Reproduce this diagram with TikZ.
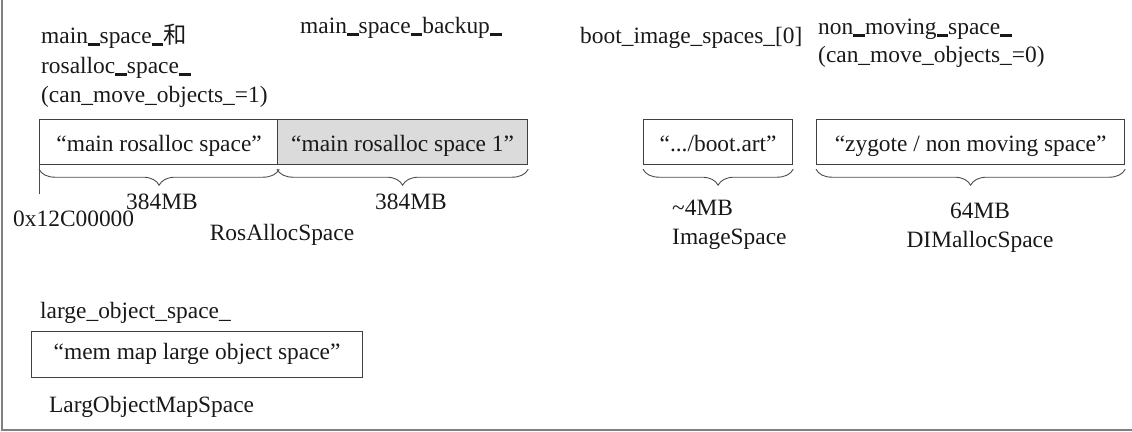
\documentclass[tikz,border=0pt]{standalone}
\usepackage{fontspec}
\setmainfont{Liberation Serif}
\newfontfamily\cjk{Noto Sans CJK SC}
\usetikzlibrary{decorations.pathreplacing}
\newcommand\tu{\rule[-0.11em]{0.5em}{0.09em}}
\begin{document}
\begin{tikzpicture}[x=1pt,y=-1pt,
  every node/.style={font=\fontsize{23.4}{30}\selectfont, text=black!90, inner sep=0pt},
  lbl/.style={anchor=base west},
  clbl/.style={anchor=base},
  membox/.style={draw=black!75, line width=1.2pt, minimum height=45pt, anchor=north west, text height=18pt, text depth=0pt},
  brace/.style={draw=black!70, line width=0.9pt, decorate, decoration={brace, mirror, amplitude=16pt, raise=4pt}},
  thin/.style={draw=black!70, line width=0.9pt},
  frame/.style={draw=black!50, line width=1.5pt}]
\useasboundingbox (0,0) rectangle (1132,431);
% frame
\coordinate (ftop) at (2,0);
\coordinate (fcorner) at (2,430);
\coordinate (fright) at (1132,430);
\draw[frame] (ftop) -- (fcorner) -- (fright);
% boxes
\node[membox, minimum width=239pt] (main) at (39,119) {“main rosalloc space”};
\node[membox, minimum width=250pt, fill=black!14] (backup) at (277,119) {“main rosalloc space 1”};
\node[membox, minimum width=149pt] (boot) at (643,119) {“.../boot.art”};
\node[membox, minimum width=308pt] (zygote) at (816,119) {“zygote / non moving space”};
\node[membox, minimum width=331pt, minimum height=46pt, text height=13pt, text depth=4pt] (los) at (31,331) {“mem map large object space”};
% braces
\draw[brace] (main.south west) -- (main.south east);
\draw[brace] (backup.south west) -- (backup.south east);
\draw[brace] (boot.south west) -- (boot.south east);
\draw[brace] (zygote.south west) -- (zygote.south east);
\coordinate (addr) at (39,194);
\draw[thin] (main.south west) -- (addr);
% labels top
\node[lbl] (l1) at (41,43) {main\tu space\tu{\cjk 和}};
\node[lbl] (l2) at (41,73) {rosalloc\tu space\tu};
\node[lbl] (l3) at (41,102) {(can\_move\_objects\_=1)};
\node[lbl] (l4) at (300,33) {main\tu space\tu backup\tu};
\node[lbl] (l5) at (580,43) {boot\_image\_spaces\_[0]};
\node[lbl] (l6) at (818,34) {non\tu moving\tu space\tu};
\node[lbl] (l7) at (818,62) {(can\_move\_objects\_=0)};
% labels below
\node[clbl] (s1) at (162,209) {384MB};
\node[clbl] (s2) at (411,209) {384MB};
\node[lbl] (addrl) at (13,226) {0x12C00000};
\node[clbl] (t1) at (282,240) {RosAllocSpace};
\node[lbl] (s3) at (672,215) {\textasciitilde 4MB};
\node[lbl] (t2) at (672,244) {ImageSpace};
\node[clbl] (s4) at (980,218) {64MB};
\node[clbl] (t3) at (980,247) {DIMallocSpace};
\node[lbl] (l8) at (40,318) {large\_object\_space\_};
\node[lbl] (t4) at (49,412) {LargObjectMapSpace};
\end{tikzpicture}
\end{document}
